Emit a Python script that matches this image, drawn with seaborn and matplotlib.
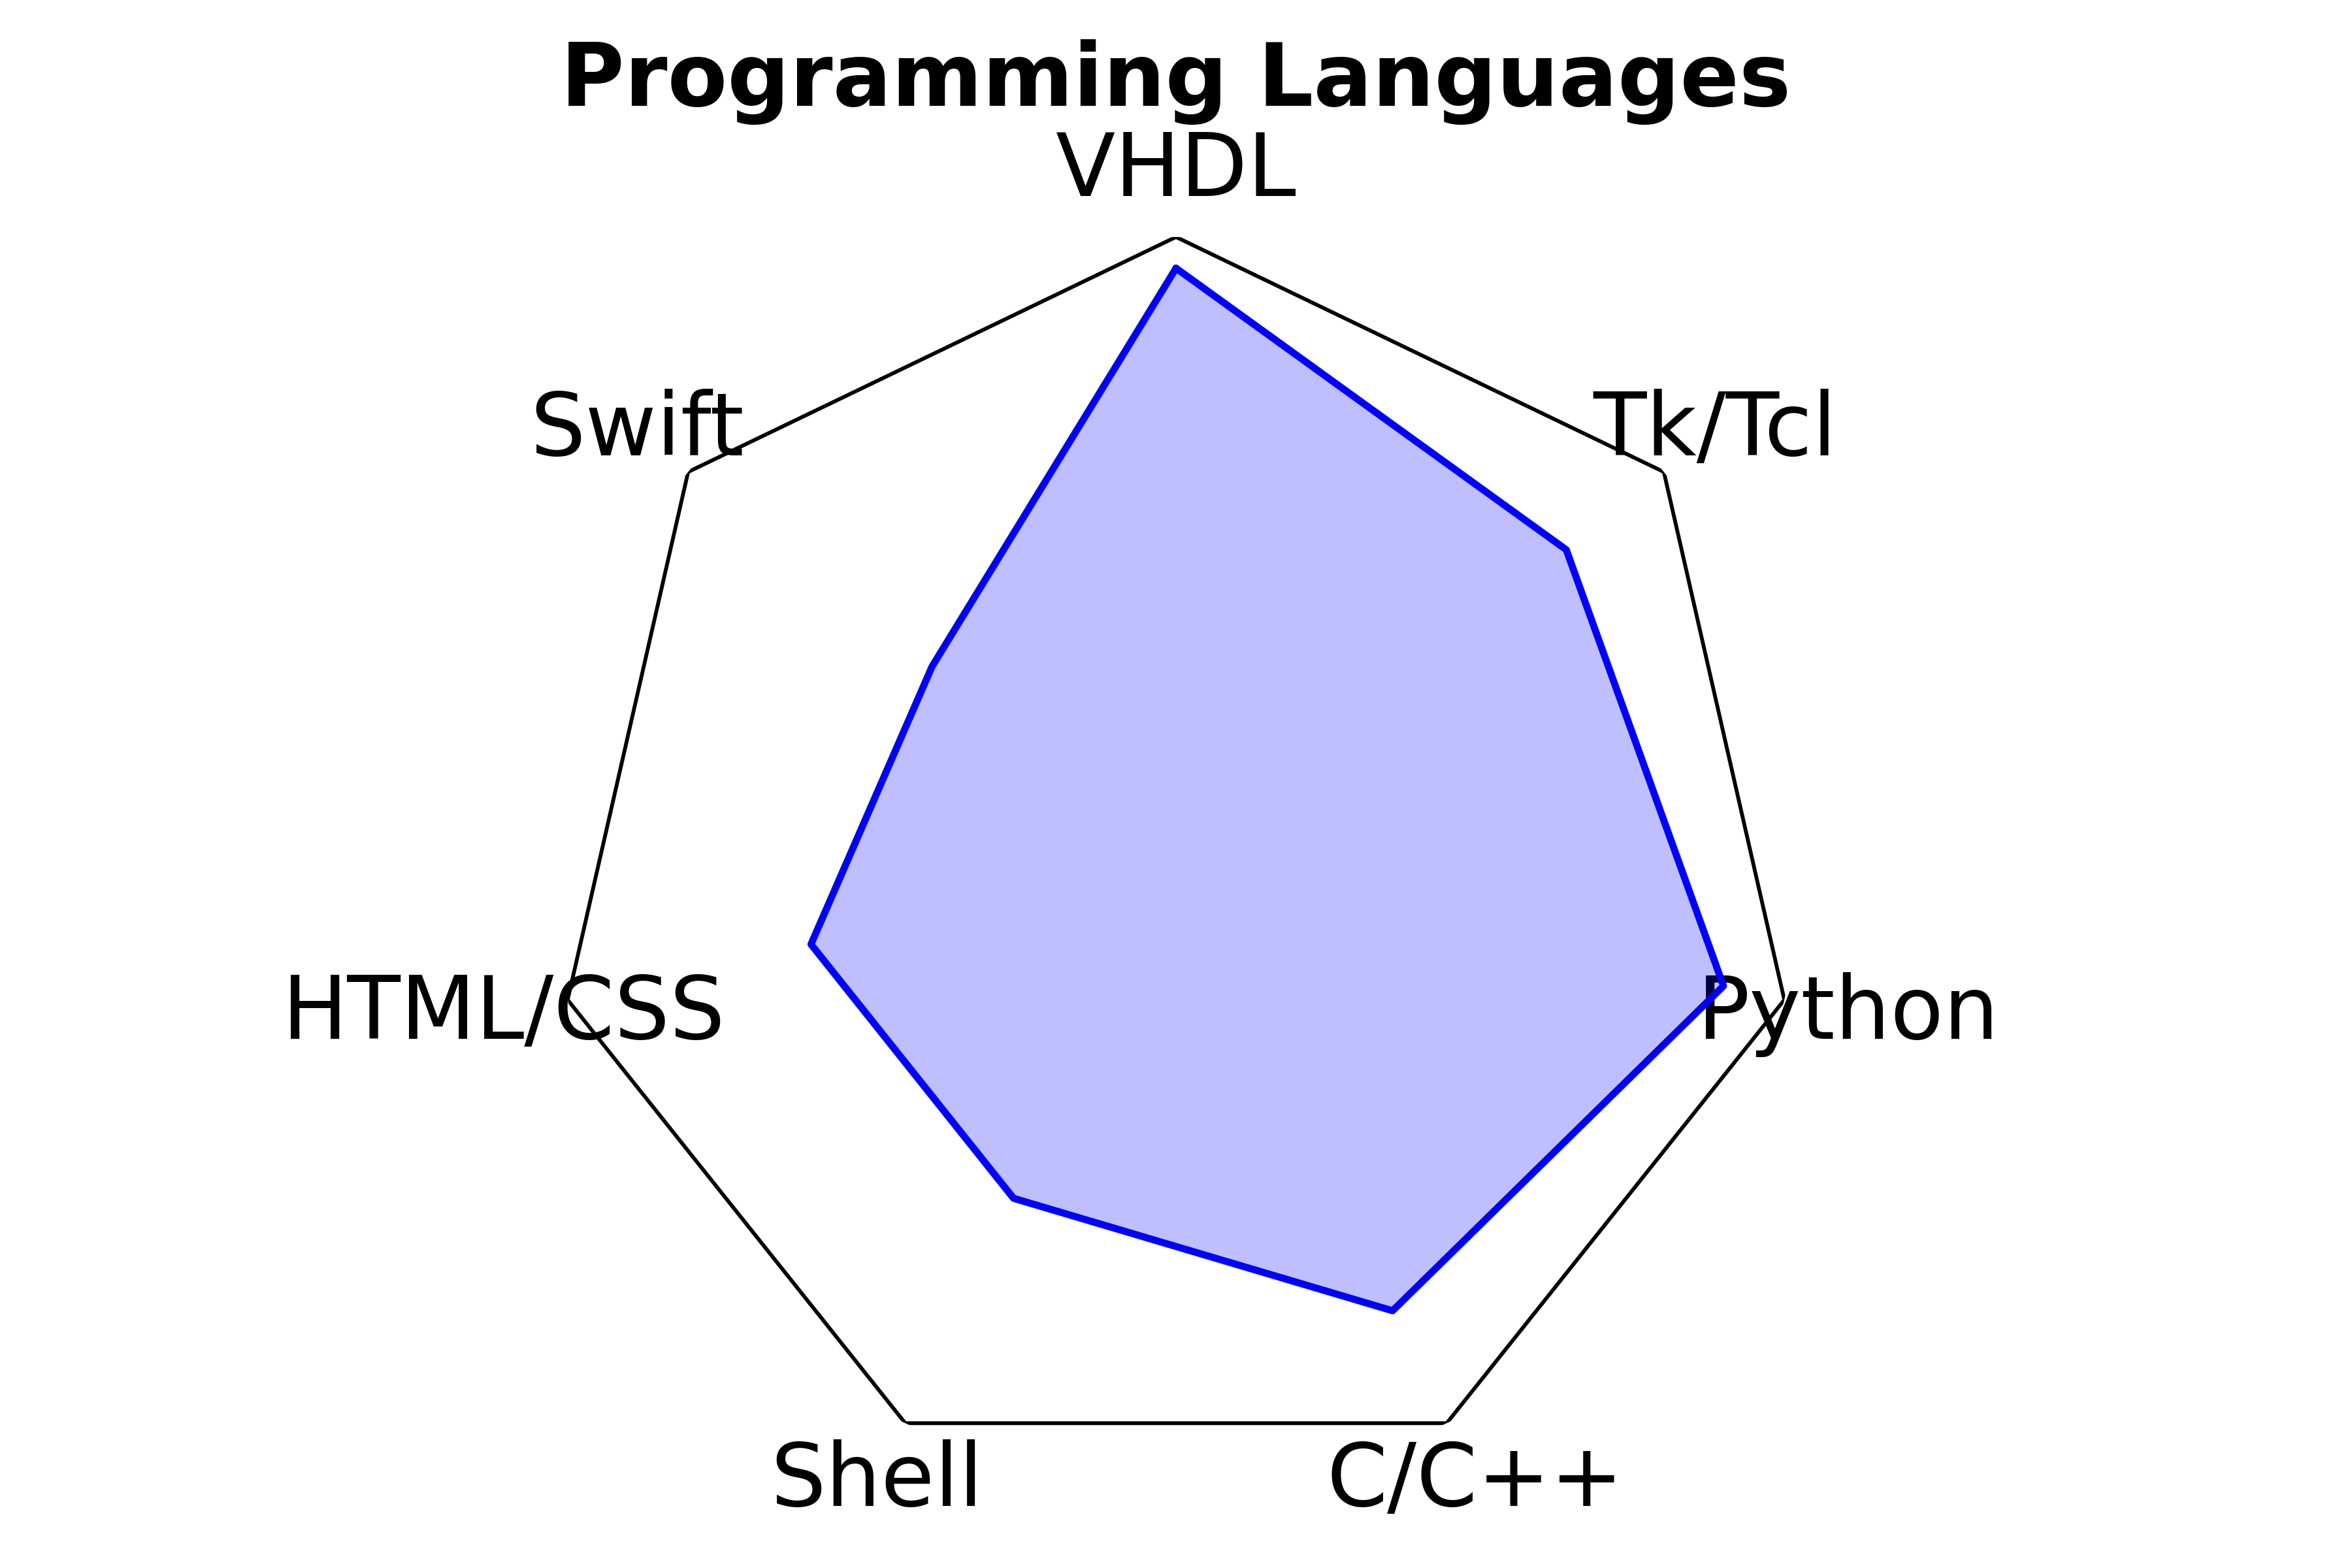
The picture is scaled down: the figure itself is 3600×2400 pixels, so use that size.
import numpy as np
import pandas as pd
import matplotlib
matplotlib.use("Agg")
import matplotlib.pyplot as plt
import seaborn as sns

categories = ["VHDL", "Tk/Tcl", "Python", "C/C++", "Shell", "HTML/CSS", "Swift"]
values = [95, 80, 90, 80, 60, 60, 50]
max_value = 100
title = "Programming Languages"

sns.set_theme(style="white")
plt.rcParams['font.family'] = ['DejaVu Sans']
plt.rcParams['text.color'] = 'black'
plt.rcParams['xtick.color'] = 'black'

n = len(categories)
angles = np.linspace(0, 2 * np.pi, n, endpoint=False)
angles_closed = np.concatenate([angles, angles[:1]])
vals_closed = values + values[:1]

df = pd.DataFrame({"angle": angles_closed, "value": vals_closed})

fig = plt.figure(figsize=(12, 8), dpi=300)
ax = fig.add_axes([0.2347, 0.0529, 0.5306, 0.796], projection="polar")
ax.set_theta_offset(np.pi / 2)
ax.set_theta_direction(-1)

# outer frame polygon
ax.plot(angles_closed, [max_value] * (n + 1), color="black", linewidth=1.4,
        solid_joinstyle="miter")

sns.lineplot(data=df, x="angle", y="value", sort=False, color="blue",
             linewidth=2.6, ax=ax, estimator=None)
ax.fill(angles_closed, vals_closed, color="blue", alpha=0.25, linewidth=0)

ax.set_ylim(0, max_value)
ax.set_yticks([])
ax.set_xticks(angles)
ax.set_xticklabels(categories, fontsize=32, color="black")
ax.tick_params(axis="x", pad=11)
ax.grid(False)
ax.spines["polar"].set_visible(False)
ax.set_xlabel("")
ax.set_ylabel("")

fig.suptitle(title, fontsize=32, fontweight="bold", y=0.975, color="black")

fig.savefig("out.png", dpi=300)
